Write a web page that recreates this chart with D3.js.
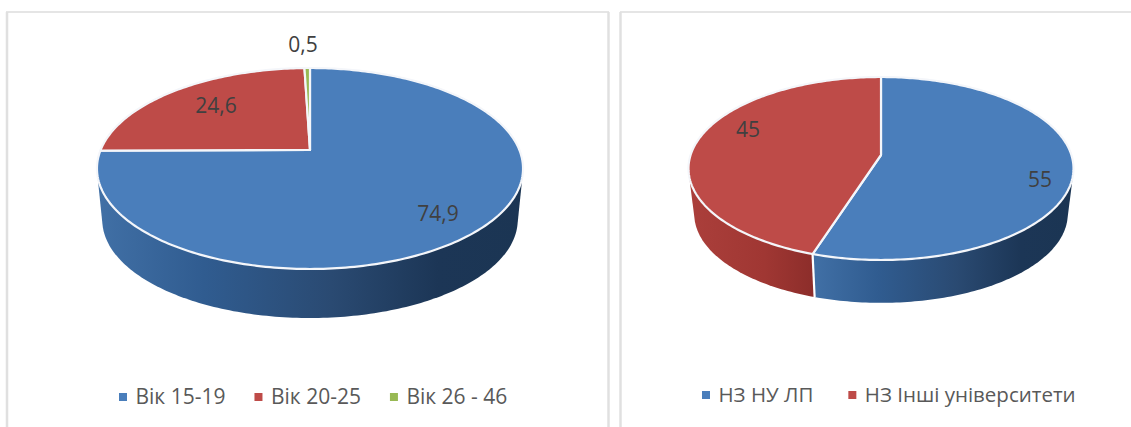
<!DOCTYPE html>
<html>
<head>
<meta charset="utf-8">
<script src="https://cdn.jsdelivr.net/npm/d3@7"></script>
<style>
  html, body { margin: 0; padding: 0; background: #fff; overflow: hidden; }
  text { font-family: "Open Sans", "Noto Sans", sans-serif; }
</style>
</head>
<body>
<div id="chart"></div>
<script>
// data
const ageLabels = ["Вік 15-19", "Вік 20-25", "Вік 26 - 46"];
const ageValues = [74.9, 24.6, 0.5];
const ageValueText = ["74,9", "24,6", "0,5"];

const schoolLabels = ["НЗ НУ ЛП", "НЗ Інші університети"];
const schoolValues = [55, 45];
const schoolValueText = ["55", "45"];

const colors = ["#4a7ebb", "#be4b48", "#98b954"];

const svg = d3.select("#chart")
  .append("svg")
  .attr("width", 1131)
  .attr("height", 427);

// side wall gradients
const defs = svg.append("defs");
function addGradient(id, stops) {
  const g = defs.append("linearGradient").attr("id", id);
  stops.forEach(s => g.append("stop").attr("offset", s[0]).attr("stop-color", s[1]));
}
addGradient("sideBlue", [[0, "#4170a6"], [0.25, "#305c90"], [0.55, "#2a4a72"], [0.8, "#1c3656"], [1, "#1b3553"]]);
addGradient("sideRed", [[0, "#ab3f3b"], [0.6, "#a03733"], [1, "#8c2d2a"]]);

// panel borders
function hLine(x1, x2, y) {
  svg.append("line").attr("x1", x1).attr("x2", x2).attr("y1", y).attr("y2", y)
    .attr("stroke", "#dcdcdc").attr("stroke-width", 1.5);
}
function vLine(x, y1, y2) {
  svg.append("line").attr("x1", x).attr("x2", x).attr("y1", y1).attr("y2", y2)
    .attr("stroke", "#e0e0e0").attr("stroke-width", 2.5);
}
hLine(6, 609, 12);
vLine(7, 12, 427);
vLine(608.5, 12, 427);
hLine(620, 1131, 12);
vLine(620.5, 12, 427);

// pie drawn on a tilted disc, so the centre sits above the middle of the ellipse
function drawPie(opt) {
  const g = svg.append("g").attr("transform", `translate(${opt.cx},${opt.cy})`);
  const k = opt.persp;
  const project = (a, depth) => {
    const u = Math.sin(a), v = -Math.cos(a);
    const w = 1 - k * v;
    return depth
      ? [opt.rx * opt.shrink * u / w, opt.depth + opt.ry * opt.shrink * v / w]
      : [opt.rx * u / w, opt.ry * v / w];
  };
  const slices = d3.pie().sort(null)(opt.values);
  const line = d3.line();
  const step = Math.PI / 180;

  // walls first, only the part that faces the viewer
  slices.forEach((s, i) => {
    const from = Math.max(s.startAngle, Math.PI * 0.3);
    const to = Math.min(s.endAngle, Math.PI * 1.7);
    if (to <= from || from > Math.PI * 1.45) return;
    const angles = d3.range(from, to, step).concat(to);
    const pts = angles.map(a => project(a, true)).concat(angles.map(a => project(a, false)));
    g.append("path")
      .attr("d", line(d3.polygonHull(pts)) + "Z")
      .attr("fill", `url(#${i === 0 ? "sideBlue" : "sideRed"})`);
    if (from > Math.PI * 0.3) {
      g.append("path")
        .attr("d", line([project(from, false), project(from, true)]))
        .attr("stroke", "#fff").attr("stroke-width", 2.2).attr("fill", "none");
    }
  });

  // top face
  slices.forEach((s, i) => {
    const angles = d3.range(s.startAngle, s.endAngle, step).concat(s.endAngle);
    g.append("path")
      .attr("d", line([[0, 0]].concat(angles.map(a => project(a, false)))) + "Z")
      .attr("fill", colors[i])
      .attr("stroke", "#f4f6fa")
      .attr("stroke-width", 2.2)
      .attr("stroke-linejoin", "round");
  });

  // value labels
  opt.valueText.forEach((t, i) => {
    svg.append("text")
      .attr("x", opt.labelPos[i][0])
      .attr("y", opt.labelPos[i][1])
      .attr("text-anchor", "middle")
      .attr("font-size", 21)
      .attr("fill", "#404040")
      .text(t);
  });

  // legend
  let x = opt.legendX;
  opt.labels.forEach((t, i) => {
    svg.append("rect")
      .attr("x", x).attr("y", opt.legendY - 11)
      .attr("width", 8).attr("height", 8)
      .attr("fill", colors[i]);
    const txt = svg.append("text")
      .attr("x", x + 16.5)
      .attr("y", opt.legendY)
      .attr("font-size", opt.legendSize)
      .attr("fill", "#595959")
      .text(t);
    x += 16.5 + txt.node().getComputedTextLength() + opt.legendGap;
  });
}

drawPie({
  values: ageValues, valueText: ageValueText, labels: ageLabels,
  cx: 310, cy: 150, rx: 209.4, ry: 97.1, persp: 0.184, depth: 52, shrink: 0.975,
  labelPos: [[438, 221], [216, 113], [303, 52]],
  legendX: 119, legendY: 404, legendGap: 29, legendSize: 21
});

drawPie({
  values: schoolValues, valueText: schoolValueText, labels: schoolLabels,
  cx: 881, cy: 155, rx: 190.4, ry: 89.5, persp: 0.1475, depth: 46, shrink: 0.97,
  labelPos: [[1040, 187], [748, 137]],
  legendX: 702, legendY: 402, legendGap: 35, legendSize: 20.5
});
</script>
</body>
</html>
